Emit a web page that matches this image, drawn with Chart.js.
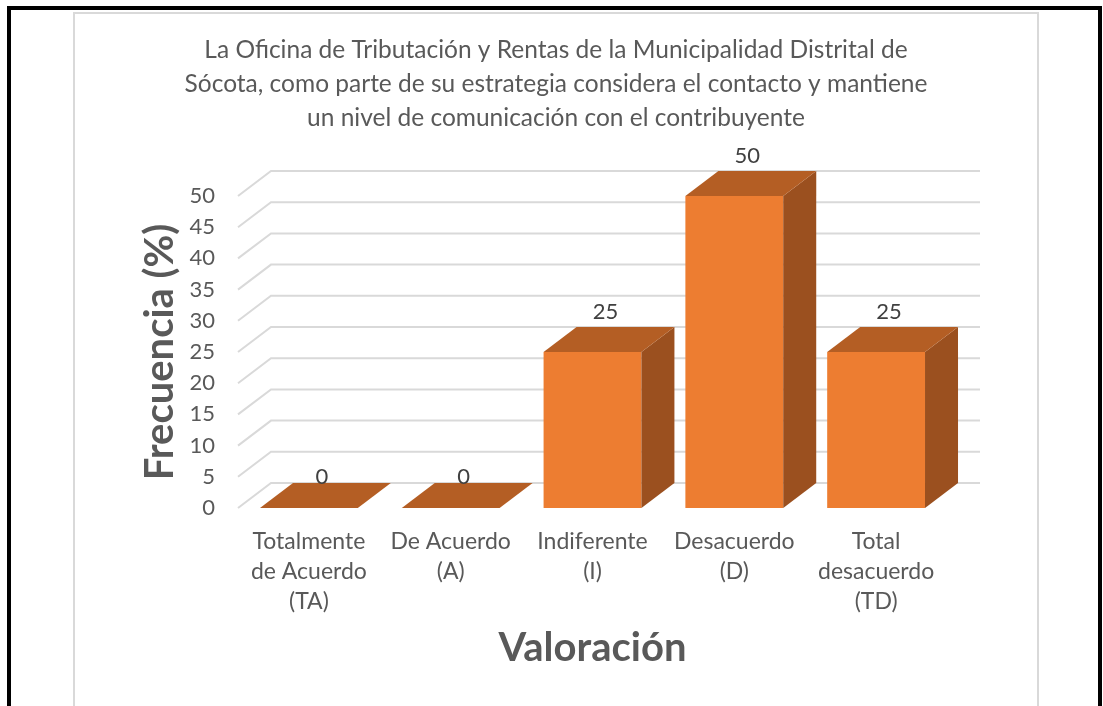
<!DOCTYPE html>
<html>
<head>
<meta charset="utf-8">
<script src="https://cdn.jsdelivr.net/npm/chart.js@4/dist/chart.umd.min.js"></script>
<style>
  html, body { margin: 0; padding: 0; background: #fff; overflow: hidden; }
  #outer { position: absolute; left: 7px; top: 6px; width: 1095px; height: 800px; box-sizing: border-box; border: 4px solid #000; }
  #inner { position: absolute; left: 73px; top: 12px; width: 966px; height: 800px; box-sizing: border-box; border: 2px solid #d9d9d9; }
  #myChart { position: absolute; left: 0; top: 0; z-index: 1; }
</style>
</head>
<body>
<div id="outer"></div>
<div id="inner"></div>
<canvas id="myChart" width="1103" height="706"></canvas>
<script>
// chart data
const titleLines = [
  'La Oficina de Tributación y Rentas de la Municipalidad Distrital de',
  'Sócota, como parte de su estrategia considera el contacto y mantiene',
  'un nivel de comunicación con el contribuyente'
];
const categories = [
  ['Totalmente', 'de Acuerdo', '(TA)'],
  ['De Acuerdo', '(A)'],
  ['Indiferente', '(I)'],
  ['Desacuerdo', '(D)'],
  ['Total', 'desacuerdo', '(TD)']
];
const frecuencia = [0, 0, 25, 50, 25];
const yMin = 0;
const yMax = 50;
const yStep = 5;

// 3d look
const dx = 33;
const dy = -25;
const FONT = 'Lato, "Open Sans", sans-serif';

const depthPlugin = {
  id: 'depth',
  afterLayout(chart) {
    // title centred on the chart frame, not on the plot
    if (chart.titleBlock) {
      chart.titleBlock.left = 74;
      chart.titleBlock.right = 1038;
    }
  },
  beforeDatasetsDraw(chart) {
    const { ctx, chartArea, scales: { y } } = chart;
    ctx.save();
    ctx.strokeStyle = '#d9d9d9';
    ctx.lineWidth = 2;
    y.ticks.forEach(t => {
      const py = y.getPixelForValue(t.value);
      ctx.beginPath();
      ctx.moveTo(chartArea.left, py);
      ctx.lineTo(chartArea.left + dx, py + dy);
      ctx.lineTo(chartArea.right + dx, py + dy);
      ctx.stroke();
    });
    ctx.restore();
  },
  afterDatasetsDraw(chart) {
    const { ctx } = chart;
    const meta = chart.getDatasetMeta(0);
    ctx.save();
    meta.data.forEach((bar, i) => {
      const { x, y, base, width } = bar.getProps(['x', 'y', 'base', 'width'], true);
      const l = x - width / 2;
      const r = x + width / 2;
      // side
      ctx.fillStyle = '#9b501f';
      ctx.beginPath();
      ctx.moveTo(r, y);
      ctx.lineTo(r + dx, y + dy);
      ctx.lineTo(r + dx, base + dy);
      ctx.lineTo(r, base);
      ctx.closePath();
      ctx.fill();
      // top
      ctx.fillStyle = '#b45e24';
      ctx.beginPath();
      ctx.moveTo(l, y);
      ctx.lineTo(l + dx, y + dy);
      ctx.lineTo(r + dx, y + dy);
      ctx.lineTo(r, y);
      ctx.closePath();
      ctx.fill();
      // value label (zero bars sit a bit lower in the original)
      ctx.fillStyle = '#404040';
      ctx.font = '22px ' + FONT;
      ctx.textAlign = 'center';
      ctx.textBaseline = 'middle';
      const off = frecuencia[i] === 0 ? -6 : -15;
      ctx.fillText(String(frecuencia[i]), x + 13, y + dy + off);
    });
    ctx.restore();
  }
};

const ctx = document.getElementById('myChart');
new Chart(ctx, {
  type: 'bar',
  data: {
    labels: categories,
    datasets: [{
      label: 'Frecuencia',
      data: frecuencia,
      backgroundColor: '#ed7d31',
      borderWidth: 0,
      categoryPercentage: 1,
      barPercentage: 0.69
    }]
  },
  options: {
    responsive: false,
    animation: false,
    layout: { padding: { left: 100, right: 156, top: 0, bottom: 0 } },
    plugins: {
      legend: { display: false },
      tooltip: { enabled: false },
      title: {
        display: true,
        text: titleLines,
        color: '#595959',
        font: { family: FONT, size: 24.5, weight: 'normal', lineHeight: '34px' },
        padding: { top: 33, bottom: 61 }
      }
    },
    scales: {
      x: {
        grid: { display: false },
        border: { display: false },
        ticks: {
          color: '#595959',
          font: { family: FONT, size: 23, lineHeight: '30px' },
          padding: 11,
          maxRotation: 0,
          autoSkip: false
        },
        title: {
          display: true,
          text: 'Valoración',
          color: '#595959',
          font: { family: FONT, size: 40, weight: 'bold', lineHeight: 1.2 },
          padding: { top: 0, bottom: 34 }
        },
        afterFit(s) { s.height = 198; }
      },
      y: {
        min: yMin,
        max: yMax,
        grid: { display: false, drawTicks: false },
        border: { display: false },
        ticks: {
          stepSize: yStep,
          color: '#595959',
          font: { family: FONT, size: 22 },
          padding: 23
        },
        title: {
          display: true,
          text: 'Frecuencia (%)',
          color: '#595959',
          font: { family: FONT, size: 40, weight: 'bold', lineHeight: 1.2 },
          padding: { top: 36, bottom: 0 }
        },
        afterFit(s) { s.width = 138; }
      }
    }
  },
  plugins: [depthPlugin]
});
</script>
</body>
</html>
